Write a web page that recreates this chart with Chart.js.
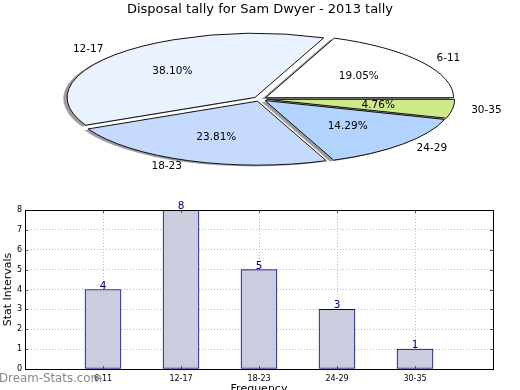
<!DOCTYPE html>
<html>
<head>
<meta charset="utf-8">
<title>Disposal tally for Sam Dwyer - 2013 tally</title>
<script src="https://cdn.jsdelivr.net/npm/chart.js@4.4.1/dist/chart.umd.min.js"></script>
<style>
  html, body { margin: 0; padding: 0; background: #fff; }
  #wrap { position: relative; width: 520px; height: 390px; overflow: hidden; }
  canvas { position: absolute; left: 0; }
  #pie { top: 0; }
  #bars { top: 200px; }
  #mark { position: absolute; left: -1px; top: 371px; font: 11.8px 'DejaVu Sans', sans-serif; color: #888; white-space: nowrap; }
</style>
</head>
<body>
<div id="wrap">
  <canvas id="pie" width="520" height="200"></canvas>
  <canvas id="bars" width="520" height="200"></canvas>
  <div id="mark">Dream-Stats.com</div>
</div>
<script>
// data
const categories = ['6-11', '12-17', '18-23', '24-29', '30-35'];
const counts = [4, 8, 5, 3, 1];
const yMax = 8;

const sliceColors = ['#ffffff', '#eaf2ff', '#c6d9fe', '#b3d4ff', '#cde98a'];

Chart.defaults.font.family = "'DejaVu Sans', sans-serif";
Chart.defaults.color = '#000';

// pie geometry (matplotlib-style flattened pie)
const PIE_CX = 260, PIE_CY = 99, PIE_RX = 188, PIE_RY = 64;
const EXPLODE = 0.036;

// chart.js draws clockwise, the reference runs counter-clockwise from east
const pieLabels = categories.slice().reverse();
const pieValues = counts.slice().reverse();
const pieColors = sliceColors.slice().reverse();
const total = counts.reduce((a, b) => a + b, 0);

function wedgeTransform(ctx, arc, dx, dy) {
  const mid = (arc.startAngle + arc.endAngle) / 2;
  const R = arc.outerRadius;
  ctx.translate(PIE_CX + dx + Math.cos(mid) * EXPLODE * PIE_RX,
                PIE_CY + dy + Math.sin(mid) * EXPLODE * PIE_RY);
  ctx.scale(PIE_RX / R, PIE_RY / R);
  ctx.translate(-arc.x, -arc.y);
}

function wedgePath(ctx, arc) {
  ctx.beginPath();
  ctx.moveTo(arc.x, arc.y);
  ctx.arc(arc.x, arc.y, arc.outerRadius, arc.startAngle, arc.endAngle);
  ctx.closePath();
}

const ellipsePie = {
  id: 'ellipsePie',
  beforeDatasetsDraw(chart) {
    const ctx = chart.ctx;
    const arcs = chart.getDatasetMeta(0).data;
    // shadows first, like matplotlib
    arcs.forEach(arc => {
      ctx.save();
      wedgeTransform(ctx, arc, -3.8, 1.3);
      wedgePath(ctx, arc);
      ctx.fillStyle = 'rgba(60,60,60,0.5)';
      ctx.fill();
      ctx.restore();
    });
    arcs.forEach(arc => {
      ctx.save();
      wedgeTransform(ctx, arc, 0, 0);
      arc.draw(ctx);
      ctx.restore();
    });
    arcs.forEach(arc => {
      ctx.save();
      wedgeTransform(ctx, arc, 0, 0);
      wedgePath(ctx, arc);
      ctx.restore();
      ctx.save();
      ctx.lineWidth = 1;
      ctx.strokeStyle = '#111';
      ctx.stroke();
      ctx.restore();
    });
    return false;
  },
  afterDraw(chart) {
    const ctx = chart.ctx;
    const arcs = chart.getDatasetMeta(0).data;
    ctx.save();
    ctx.font = "10.5px 'DejaVu Sans'";
    ctx.fillStyle = '#000';
    ctx.textBaseline = 'middle';
    arcs.forEach((arc, i) => {
      const mid = (arc.startAngle + arc.endAngle) / 2;
      const c = Math.cos(mid), s = Math.sin(mid);
      ctx.textAlign = c > 0 ? 'left' : 'right';
      ctx.fillText(pieLabels[i], PIE_CX + (EXPLODE + 1.1) * PIE_RX * c, PIE_CY + (EXPLODE + 1.1) * PIE_RY * s);
      ctx.textAlign = 'center';
      ctx.fillText((pieValues[i] / total * 100).toFixed(2) + '%',
        PIE_CX + (EXPLODE + 0.6) * PIE_RX * c, PIE_CY + (EXPLODE + 0.6) * PIE_RY * s);
    });
    ctx.restore();
  }
};

new Chart(document.getElementById('pie'), {
  type: 'pie',
  data: {
    labels: pieLabels,
    datasets: [{ data: pieValues, backgroundColor: pieColors, borderWidth: 0 }]
  },
  options: {
    responsive: false,
    animation: false,
    rotation: 90,
    radius: 80,
    events: [],
    plugins: {
      legend: { display: false },
      tooltip: { enabled: false },
      title: {
        display: true,
        text: 'Disposal tally for Sam Dwyer - 2013 tally',
        font: { size: 13, weight: 'normal' },
        color: '#000',
        padding: { top: 2, bottom: 4 }
      }
    }
  },
  plugins: [ellipsePie]
});

// bar chart: empty slots at both ends give the half-empty margins of the reference
const barLabels = ['', ...categories, ''];
const barValues = [null, ...counts, null];

const barExtras = {
  id: 'barExtras',
  afterDraw(chart) {
    const { ctx, chartArea: a } = chart;
    const yScale = chart.scales.y, xScale = chart.scales.x;
    ctx.save();
    // small inward tick marks
    ctx.strokeStyle = '#555';
    ctx.lineWidth = 1;
    yScale.ticks.forEach(t => {
      const py = Math.round(yScale.getPixelForValue(t.value)) + 0.5;
      ctx.beginPath();
      ctx.moveTo(a.left, py); ctx.lineTo(a.left + 3, py);
      ctx.moveTo(a.right, py); ctx.lineTo(a.right - 3, py);
      ctx.stroke();
    });
    categories.forEach((c, i) => {
      const px = Math.round(xScale.getPixelForValue(i + 1)) + 0.5;
      ctx.beginPath();
      ctx.moveTo(px, a.bottom); ctx.lineTo(px, a.bottom - 3);
      ctx.moveTo(px, a.top); ctx.lineTo(px, a.top + 3);
      ctx.stroke();
    });
    // frame
    ctx.strokeStyle = '#000';
    ctx.strokeRect(Math.round(a.left) + 0.5, Math.round(a.top) + 0.5,
      Math.round(a.right - a.left), Math.round(a.bottom - a.top));
    // value labels
    ctx.font = "10.5px 'DejaVu Sans'";
    ctx.fillStyle = '#000080';
    ctx.textAlign = 'center';
    ctx.textBaseline = 'alphabetic';
    chart.getDatasetMeta(0).data.forEach((bar, i) => {
      if (barValues[i] == null) return;
      ctx.fillText(String(barValues[i]), bar.x, bar.y - 1);
    });
    ctx.restore();
  }
};

new Chart(document.getElementById('bars'), {
  type: 'bar',
  data: {
    labels: barLabels,
    datasets: [{
      data: barValues,
      backgroundColor: '#ccccdf',
      borderColor: '#000080',
      borderWidth: 1,
      borderSkipped: false,
      barThickness: 36
    }]
  },
  options: {
    responsive: false,
    animation: false,
    events: [],
    layout: { padding: { left: 0, right: 27, top: 10, bottom: 0 } },
    plugins: { legend: { display: false }, tooltip: { enabled: false } },
    scales: {
      x: {
        offset: false,
        z: 1,
        afterFit(scale) { scale.height = 31; },
        grid: { offset: false, color: '#bbbbbb', lineWidth: 1, drawTicks: false },
        border: { display: false, dash: [1, 2] },
        ticks: { font: { size: 8 }, color: '#000', padding: 5, maxRotation: 0, autoSkip: false },
        title: { display: true, text: 'Frequency', font: { size: 11 }, padding: { top: 4, bottom: 4 } }
      },
      y: {
        min: 0,
        max: yMax,
        z: 1,
        afterFit(scale) { scale.width = 25; },
        grid: { color: '#bbbbbb', lineWidth: 1, drawTicks: false },
        border: { display: false, dash: [1, 2] },
        ticks: { stepSize: 1, font: { size: 8 }, color: '#000', padding: 3 },
        title: { display: true, text: 'Stat Intervals', font: { size: 11 }, padding: { top: 2, bottom: 0 } }
      }
    }
  },
  plugins: [barExtras]
});
</script>
</body>
</html>
